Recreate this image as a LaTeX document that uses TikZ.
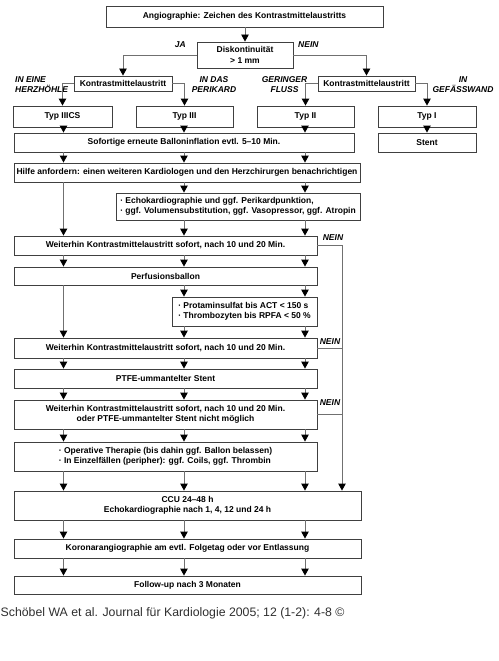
\documentclass[tikz,border=0pt]{standalone}
\usepackage{fontspec}
\setmainfont{Liberation Sans}
\usetikzlibrary{arrows.meta}
\definecolor{boxc}{HTML}{404040}
\definecolor{linec}{HTML}{707070}
\definecolor{capc}{HTML}{303030}
\newcommand\myarr[3]{\draw[arr] (#1.south -| #3) -- (#2.north -| #3);}
\begin{document}
\begin{tikzpicture}[x=1pt,y=-1pt,
  box/.style={draw=boxc,line width=0.9pt,inner sep=0pt,font=\fontsize{8.5}{10.5}\selectfont\bfseries,align=center,text=black},
  lbox/.style={box,align=left},
  lbl/.style={font=\fontsize{8.5}{9.5}\selectfont\bfseries\itshape,align=center,inner sep=0pt,text=black},
  con/.style={draw=linec,line width=0.9pt},
  arr/.style={con,-{Triangle[width=7.5pt,length=7pt,color=black]}}]
\useasboundingbox[fill=white] (0,0) rectangle (498,661);
\coordinate (cA) at (63.5,0);
\coordinate (cB) at (184,0);
\coordinate (cC) at (305,0);
\coordinate (cD) at (342,0);
\coordinate (cE) at (427,0);
% boxes
\node[box,minimum width=277,minimum height=21] (top) at (244.5,16.5) {Angiographie: Zeichen des Kontrastmittelaustritts};
\node[box,minimum width=96,minimum height=26] (disk) at (245,55) {Diskontinuität\\> 1 mm};
\node[box,minimum width=98,minimum height=15] (kl) at (123,83.5) {Kontrastmittelaustritt};
\node[box,minimum width=97,minimum height=15] (kr) at (366.5,83.5) {Kontrastmittelaustritt};
\node[box,minimum width=99,minimum height=21] (t3cs) at (62.5,116.5) {Typ IIICS};
\node[box,minimum width=97,minimum height=21] (t3) at (184.5,116.5) {Typ III};
\node[box,minimum width=97,minimum height=21] (t2) at (305.5,116.5) {Typ II};
\node[box,minimum width=98,minimum height=21] (t1) at (427,116.5) {Typ I};
\node[box,minimum width=340,minimum height=19] (sof) at (184,142.5) {Sofortige erneute Balloninflation evtl. 5–10 Min.};
\node[box,minimum width=98,minimum height=19] (stent) at (427,142.5) {Stent};
\node[box,minimum width=346,minimum height=19] (hilfe) at (187,172.5) {Hilfe anfordern: einen weiteren Kardiologen und den Herzchirurgen benachrichtigen};
\node[lbox,minimum width=244,minimum height=27] (echo) at (238,206.5) {· Echokardiographie und ggf. Perikardpunktion,\\· ggf. Volumensubstitution, ggf. Vasopressor, ggf. Atropin};
\node[box,minimum width=303,minimum height=19] (w1) at (165.5,245.5) {Weiterhin Kontrastmittelaustritt sofort, nach 10 und 20 Min.};
\node[box,minimum width=303,minimum height=18] (perf) at (165.5,276) {Perfusionsballon};
\node[lbox,minimum width=145,minimum height=29] (prot) at (244.5,311.5) {· Protaminsulfat bis ACT < 150 s\\· Thrombozyten bis RPFA < 50 \%};
\node[box,minimum width=303,minimum height=20] (w2) at (165.5,348) {Weiterhin Kontrastmittelaustritt sofort, nach 10 und 20 Min.};
\node[box,minimum width=303,minimum height=19] (ptfe) at (165.5,378.5) {PTFE-ummantelter Stent};
\node[box,minimum width=303,minimum height=29] (w3) at (165.5,414.5) {Weiterhin Kontrastmittelaustritt sofort, nach 10 und 20 Min.\\oder PTFE-ummantelter Stent nicht möglich};
\node[lbox,minimum width=303,minimum height=29] (op) at (165.5,456.5) {· Operative Therapie (bis dahin ggf. Ballon belassen)\\· In Einzelfällen (peripher): ggf. Coils, ggf. Thrombin};
\node[box,minimum width=347,minimum height=29] (ccu) at (187.5,505.5) {CCU 24–48 h\\Echokardiographie nach 1, 4, 12 und 24 h};
\node[box,minimum width=347,minimum height=19] (kor) at (187.5,548.5) {Koronarangiographie am evtl. Folgetag oder vor Entlassung};
\node[box,minimum width=347,minimum height=18] (fol) at (187.5,585) {Follow-up nach 3 Monaten};
% labels
\node[lbl,anchor=east] (ja) at (186,45) {JA};
\node[lbl,anchor=west] (nein0) at (298,45) {NEIN};
\node[lbl,align=left,anchor=west] (lherz) at (15,84.5) {IN EINE\\HERZHÖHLE};
\node[lbl] (lperi) at (214,84.5) {IN DAS\\PERIKARD};
\node[lbl] (lfluss) at (284.5,84.5) {GERINGER\\FLUSS};
\node[lbl] (lwand) at (463,84.5) {IN\\GEFÄSSWAND};
\node[lbl] (nein1) at (333,238) {NEIN};
\node[lbl] (nein2) at (330,342) {NEIN};
\node[lbl] (nein3) at (330,403) {NEIN};
% caption
\node[anchor=base west,inner sep=0pt,text=capc,font=\fontsize{12.3}{14}\selectfont] (cap) at (0.5,616) {Schöbel WA et al. Journal für Kardiologie 2005; 12 (1-2): 4-8 ©};
% connectors
\draw[arr] (disk.north |- top.south) -- (disk.north);
\draw[arr] (disk.west) -| (kl.north);
\draw[arr] (disk.east) -| (kr.north);
\draw[arr] (kl.west) -| (t3cs.north);
\draw[arr] (kl.east) -| (t3.north);
\draw[arr] (kr.west) -| (t2.north);
\draw[arr] (kr.east) -| (t1.north);
\myarr{t3cs}{sof}{cA}
\myarr{t3}{sof}{cB}
\myarr{t2}{sof}{cC}
\myarr{t1}{stent}{cE}
\foreach \c in {cA,cB,cC}{\myarr{sof}{hilfe}{\c}}
\myarr{hilfe}{w1}{cA}
\myarr{hilfe}{echo}{cB}
\myarr{hilfe}{echo}{cC}
\myarr{echo}{w1}{cB}
\myarr{echo}{w1}{cC}
\foreach \c in {cA,cB,cC}{\myarr{w1}{perf}{\c}}
\myarr{perf}{w2}{cA}
\myarr{perf}{prot}{cB}
\myarr{perf}{prot}{cC}
\myarr{prot}{w2}{cB}
\myarr{prot}{w2}{cC}
\foreach \c in {cA,cB,cC}{\myarr{w2}{ptfe}{\c}\myarr{ptfe}{w3}{\c}\myarr{w3}{op}{\c}\myarr{op}{ccu}{\c}\myarr{ccu}{kor}{\c}\myarr{kor}{fol}{\c}}
\draw[arr] (w1.east) -| (ccu.north -| cD);
\draw[con] (w2.east) -- (w2.east -| cD);
\draw[con] (w3.east) -- (w3.east -| cD);
\end{tikzpicture}
\end{document}
